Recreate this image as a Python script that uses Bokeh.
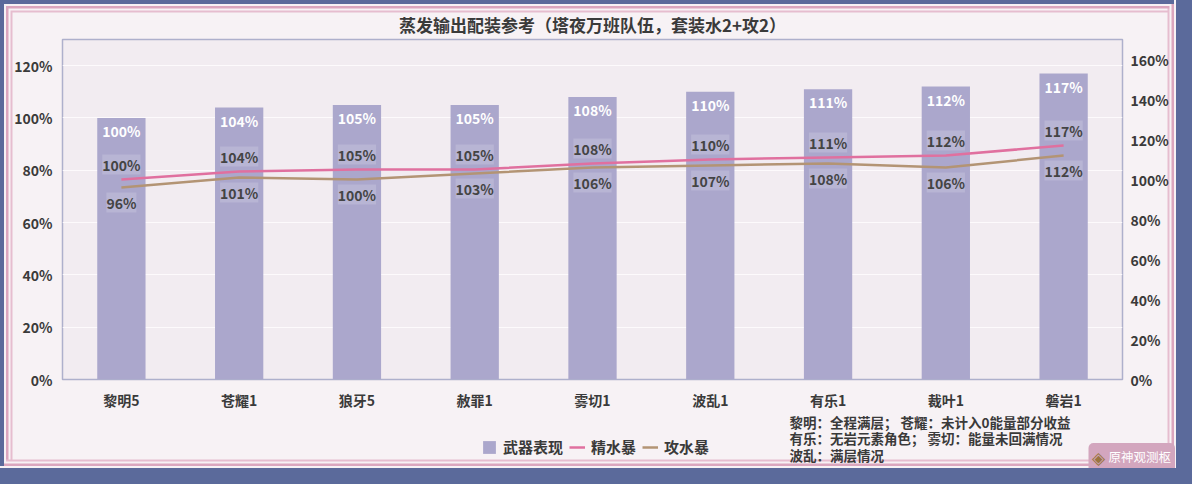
from bokeh.plotting import figure
from bokeh.models import (ColumnDataSource, Range1d, FactorRange, LinearAxis, FixedTicker,
                          LabelSet, Label, Legend, LegendItem)
from bokeh.core.properties import value
from bokeh.embed import file_html
from bokeh.resources import INLINE

# ---------------- data ----------------
title_text = "蒸发输出配装参考（塔夜万班队伍，套装水2+攻2）"
weapons = ["黎明5", "苍耀1", "狼牙5", "赦罪1", "雾切1", "波乱1", "有乐1", "裁叶1", "磐岩1"]
weapon_perf = [100, 104, 105, 105, 108, 110, 111, 112, 117]      # 武器表现 (left axis)
jing_shui_bao = [100, 104, 105, 105, 108, 110, 111, 112, 117]    # 精水暴 (right axis)
gong_shui_bao = [96, 101, 100, 103, 106, 107, 108, 106, 112]     # 攻水暴 (right axis)
left_ticks = [0, 20, 40, 60, 80, 100, 120]
right_ticks = [0, 20, 40, 60, 80, 100, 120, 140, 160]
series_names = ["武器表现", "精水暴", "攻水暴"]
notes = ["黎明：全程满层；  苍耀：未计入0能量部分收益",
         "有乐：无岩元素角色；  雾切：能量未回满情况",
         "波乱：满层情况"]
logo_text = "原神观测枢"

FONT = "Noto Sans CJK SC"
TXT = "#3a3a3a"
BAR = "#aba7cc"
PINK = "#e0709f"
BROWN = "#b39474"
PANEL = "#f7f2f5"
BLUE = "#5b6a9b"
P1 = "#dba6be"
P2 = "#e6bdcf"

W = 1176
H_MAIN = 412
H_BOT = 56


def frame_shadows(sides, outer):
    """CSS box-shadow string drawing the double pink frame on the given sides."""
    near = [(4, BLUE), (6, PANEL), (8.5, P1), (10.5, PANEL), (12.5, P2)]   # left / top
    far = [(2, PANEL), (4.5, P1), (6.5, PANEL), (8.5, P2)]                 # right / bottom
    layers = []
    for side in sides:
        seq = near if side in ("left", "top") else far
        for d, c in seq:
            off = {"left": (d, 0), "top": (0, d), "right": (-d, 0), "bottom": (0, -d)}[side]
            layers.append((d, f"inset {off[0]}px {off[1]}px 0 0 {c}"))
    layers.sort(key=lambda t: t[0])
    return ", ".join(outer + [s for _, s in layers])


src = ColumnDataSource(dict(
    x=weapons, w=weapon_perf, j=jing_shui_bao, g=gong_shui_bao,
    wl=[f"{v}%" for v in weapon_perf],
    jl=[f"{v}%" for v in jing_shui_bao],
    gl=[f"{v}%" for v in gong_shui_bao],
))

# ---------------- main chart ----------------
p = figure(x_range=FactorRange(*weapons, range_padding=0), y_range=Range1d(0, 130),
           width=W, height=H_MAIN, output_backend="svg", toolbar_location=None,
           min_border_left=62, min_border_right=W - 1122, min_border_top=39,
           min_border_bottom=H_MAIN - 381)
p.extra_y_ranges = {"right": Range1d(0, 170)}

p.title.text = title_text
p.title.align = "center"
p.title.text_font = FONT
p.title.text_font_size = "17px"
p.title.text_font_style = "bold"
p.title.text_color = TXT
p.title.standoff = 6

p.border_fill_color = None
p.background_fill_color = "#f2ecf1"
p.outline_line_color = "#aeb0cc"
p.outline_line_width = 1.5

p.yaxis.ticker = FixedTicker(ticks=left_ticks)
p.yaxis.major_label_overrides = {t: f"{t}%" for t in left_ticks}
right_axis = LinearAxis(y_range_name="right", ticker=FixedTicker(ticks=right_ticks))
right_axis.major_label_overrides = {t: f"{t}%" for t in right_ticks}
p.add_layout(right_axis, "right")

for ax in [p.xaxis[0], p.yaxis[0], right_axis]:
    ax.axis_line_color = None
    ax.major_tick_line_color = None
    ax.minor_tick_line_color = None
    ax.major_tick_out = 0
    ax.major_tick_in = 0
    ax.major_label_text_font = FONT
    ax.major_label_text_font_size = "14px"
    ax.major_label_text_font_style = "bold"
    ax.major_label_text_color = TXT
    ax.major_label_standoff = 10
right_axis.major_label_standoff = 8

p.xgrid.grid_line_color = None
p.ygrid.ticker = FixedTicker(ticks=left_ticks)
p.ygrid.grid_line_color = "#fdfafc"
p.ygrid.grid_line_width = 1.2

bars = p.vbar(x="x", top="w", width=0.41, source=src, fill_color=BAR, line_color=None)
pink = p.line(x="x", y="j", source=src, y_range_name="right", line_color=PINK, line_width=2.5)
brown = p.line(x="x", y="g", source=src, y_range_name="right", line_color=BROWN, line_width=2.5)

common = dict(source=src, text_align="center", text_baseline="middle",
              text_font=value(FONT), text_font_size="14px", text_font_style="bold")
p.add_layout(LabelSet(x="x", y="w", text="wl", y_offset=-13, text_color="white", **common))
p.add_layout(LabelSet(x="x", y="j", text="jl", y_range_name="right", y_offset=15,
                      text_color="#444444", background_fill_color="white",
                      background_fill_alpha=0.16, **common))
p.add_layout(LabelSet(x="x", y="g", text="gl", y_range_name="right", y_offset=-15,
                      text_color="#444444", background_fill_color="white",
                      background_fill_alpha=0.16, **common))

p.styles = {"background-color": PANEL,
            "box-shadow": frame_shadows(["top", "left", "right"], [f"16px 0 0 0 {BLUE}"])}

# ---------------- bottom strip: legend, notes, logo ----------------
b = figure(x_range=Range1d(0, W), y_range=Range1d(0, H_BOT), width=W, height=H_BOT,
           output_backend="svg", toolbar_location=None, min_border=0,
           x_axis_type=None, y_axis_type=None)
b.border_fill_color = None
b.background_fill_color = None
b.outline_line_color = None
b.grid.grid_line_color = None

# legend keys (off-screen proxies carrying the series styles)
key_bar = b.vbar(x=[-500], top=[-500], width=1, fill_color=BAR, line_color=None)
key_pink = b.line(x=[-500, -490], y=[-500, -500], line_color=PINK, line_width=2.5)
key_brown = b.line(x=[-500, -490], y=[-500, -500], line_color=BROWN, line_width=2.5)
legend = Legend(items=[LegendItem(label=series_names[0], renderers=[key_bar]),
                       LegendItem(label=series_names[1], renderers=[key_pink]),
                       LegendItem(label=series_names[2], renderers=[key_brown])],
                orientation="horizontal", location=(481, 11), padding=0, margin=0,
                spacing=6, label_standoff=6, glyph_width=16, glyph_height=16, label_height=16,
                background_fill_alpha=0, border_line_color=None,
                label_text_font=FONT, label_text_font_size="15px",
                label_text_font_style="bold", label_text_color=TXT)
b.add_layout(legend)

for i, line in enumerate(notes):
    b.add_layout(Label(x=789, y=47 - 16.5 * i, text=line,
                       text_align="left", text_baseline="middle", text_font=FONT,
                       text_font_size="13.5px", text_font_style="bold", text_color=TXT))

b.add_layout(Label(x=1088, y=11, text=logo_text,
                   text_align="left", text_baseline="middle", text_font=FONT,
                   text_font_size="12.5px", text_color="white",
                   background_fill_color="#d3a6be",
                   padding=dict(left=20, right=4, top=4, bottom=6), border_radius=5))
b.add_layout(Label(x=1098, y=11, text="◈",
                   text_align="center", text_baseline="middle", text_font="DejaVu Sans",
                   text_font_size="17px", text_color="#9a7440"))

b.styles = {"background-color": PANEL,
            "box-shadow": frame_shadows(["bottom", "left", "right"],
                                        [f"16px 0 0 0 {BLUE}", f"0 16px 0 0 {BLUE}",
                                         f"16px 16px 0 0 {BLUE}"])}

open("out.html", "w").write(file_html((p, b), INLINE))
